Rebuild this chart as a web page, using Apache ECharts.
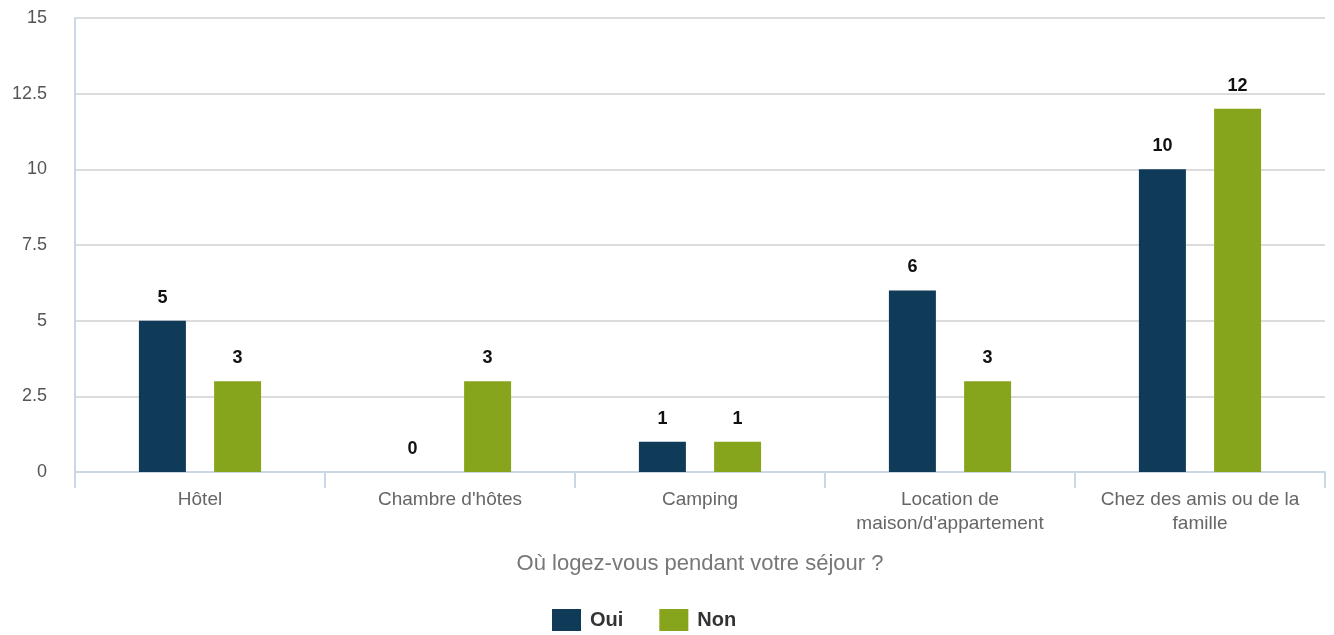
<!DOCTYPE html>
<html>
<head>
<meta charset="utf-8">
<script src="https://cdn.jsdelivr.net/npm/echarts@6/dist/echarts.min.js"></script>
<style>html,body{margin:0;padding:0;background:#fff}#c{width:1334px;height:635px}</style>
</head>
<body>
<div id="c"></div>
<script>
const categories = ["Hôtel", "Chambre d'hôtes", "Camping", "Location de\nmaison/d'appartement", "Chez des amis ou de la\nfamille"];
const oui = [5, 0, 1, 6, 10];
const non = [3, 3, 1, 3, 12];
const seriesNames = ["Oui", "Non"];
const axisTitle = "Où logez-vous pendant votre séjour ?";

const chart = echarts.init(document.getElementById('c'), null, {renderer: 'canvas'});
const font = '"Liberation Sans", Arial, Helvetica, sans-serif';
const labelCfg = {show: true, position: 'top', distance: 14, color: '#111', fontWeight: 'bold', fontSize: 18, fontFamily: font};
chart.setOption({
  animation: false,
  textStyle: {fontFamily: font},
  grid: {left: 75, right: 9, top: 18, bottom: 163, containLabel: false},
  legend: {
    top: 609, left: 552, itemWidth: 29, itemHeight: 22, itemGap: 36,
    icon: 'rect', padding: 0,
    textStyle: {fontSize: 20, fontWeight: 'bold', color: '#333', fontFamily: font, padding: [0, 0, 0, 4]},
    data: seriesNames
  },
  xAxis: {
    type: 'category', data: categories,
    name: axisTitle, nameLocation: 'middle', nameGap: 81,
    nameTextStyle: {fontSize: 22, color: '#777', fontFamily: font},
    axisLine: {lineStyle: {color: '#c9d7e7', width: 2}},
    axisTick: {show: true, length: 16, lineStyle: {color: '#c9d7e7', width: 2}},
    axisLabel: {fontSize: 19, color: '#666', margin: 16, lineHeight: 24, interval: 0, fontFamily: font}
  },
  yAxis: {
    type: 'value', min: 0, max: 15, interval: 2.5,
    axisLine: {show: true, lineStyle: {color: '#c9d7e7', width: 2}},
    axisTick: {show: false},
    axisLabel: {fontSize: 18, color: '#555', margin: 28, fontFamily: font},
    splitLine: {lineStyle: {color: '#dcdcdc', width: 2}}
  },
  series: [
    {name: seriesNames[0], type: 'bar', data: oui, barWidth: 47, barGap: '60%', itemStyle: {color: '#0f3b59'}, label: labelCfg},
    {name: seriesNames[1], type: 'bar', data: non, barWidth: 47, barGap: '60%', itemStyle: {color: '#86a51c'}, label: labelCfg}
  ]
});
</script>
</body>
</html>
